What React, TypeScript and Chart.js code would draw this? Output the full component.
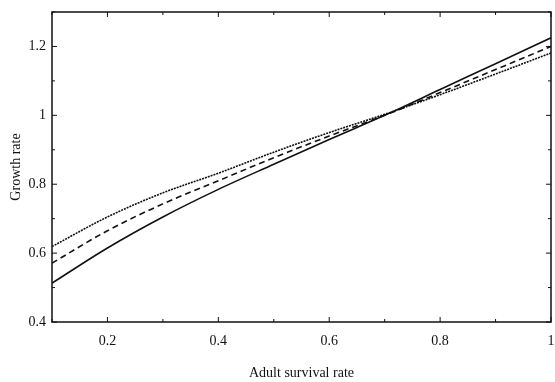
import React, { useEffect, useRef } from "react";
import { Chart, registerables } from "chart.js";

Chart.register(...registerables);

const xValues = [0.1, 0.2, 0.3, 0.4, 0.5, 0.6, 0.7, 0.8, 0.9, 1.0];
const solidSeries = [0.513, 0.615, 0.705, 0.785, 0.858, 0.93, 1.0, 1.075, 1.15, 1.225];
const dashedSeries = [0.571, 0.665, 0.743, 0.81, 0.877, 0.94, 1.0, 1.066, 1.133, 1.2];
const dottedSeries = [0.619, 0.705, 0.775, 0.832, 0.893, 0.95, 1.003, 1.06, 1.12, 1.181];
const xTicks = [0.2, 0.4, 0.6, 0.8, 1];
const yTicks = [0.4, 0.6, 0.8, 1, 1.2];
const xMinor = [0.1, 0.3, 0.5, 0.7, 0.9];
const yMinor = [0.5, 0.7, 0.9, 1.1, 1.3];

const FONT = "'Liberation Serif', 'DejaVu Serif', serif";

const framePlugin = {
  id: "frameTicks",
  afterDatasetsDraw(chart: any) {
    const { ctx, chartArea: a, scales } = chart;
    const xs = scales.x;
    const ys = scales.y;
    ctx.save();
    ctx.strokeStyle = "#111";
    ctx.lineWidth = 1.5;
    ctx.strokeRect(a.left, a.top, a.right - a.left, a.bottom - a.top);
    ctx.lineWidth = 1;
    const drawX = (v: number, len: number) => {
      const p = xs.getPixelForValue(v);
      ctx.beginPath();
      ctx.moveTo(p, a.bottom);
      ctx.lineTo(p, a.bottom - len);
      ctx.moveTo(p, a.top);
      ctx.lineTo(p, a.top + len);
      ctx.stroke();
    };
    const drawY = (v: number, len: number) => {
      const p = ys.getPixelForValue(v);
      ctx.beginPath();
      ctx.moveTo(a.left, p);
      ctx.lineTo(a.left + len, p);
      ctx.moveTo(a.right, p);
      ctx.lineTo(a.right - len, p);
      ctx.stroke();
    };
    xTicks.forEach((v) => drawX(v, 5));
    xMinor.forEach((v) => drawX(v, 3));
    yTicks.forEach((v) => drawY(v, 5));
    yMinor.forEach((v) => drawY(v, 3));
    ctx.restore();
  },
};

export default function App() {
  const ref = useRef<HTMLCanvasElement | null>(null);
  useEffect(() => {
    document.body.style.margin = "0";
    if (!ref.current) return;
    const mk = (data: number[]) => xValues.map((x, i) => ({ x, y: data[i] }));
    const line = (data: number[], dash: number[]) => ({
      data: mk(data),
      borderColor: "#111",
      borderWidth: 1.6,
      borderDash: dash,
      pointRadius: 0,
      cubicInterpolationMode: "monotone",
      fill: false,
    });
    const chart = new Chart(ref.current, {
      type: "line",
      data: {
        datasets: [
          line(solidSeries, []),
          line(dashedSeries, [6, 4]),
          line(dottedSeries, [2, 1]),
        ],
      },
      options: {
        responsive: false,
        animation: false,
        layout: { padding: { top: 12, right: 4, left: 8, bottom: 0 } },
        plugins: { legend: { display: false }, tooltip: { enabled: false } },
        scales: {
          x: {
            type: "linear",
            min: 0.1,
            max: 1,
            afterBuildTicks: (s: any) => {
              s.ticks = xTicks.map((v) => ({ value: v }));
            },
            afterFit: (s: any) => {
              s.height = 60;
              s.paddingLeft = 0;
              s.paddingRight = 0;
            },
            grid: { display: false, drawTicks: false },
            border: { display: false },
            ticks: {
              color: "#111",
              padding: 11,
              maxRotation: 0,
              font: { family: FONT, size: 14 },
              callback: (v: any) => String(v),
            },
            title: {
              display: true,
              text: "Adult survival rate",
              color: "#111",
              font: { family: FONT, size: 14 },
              padding: { top: 10, bottom: 0 },
            },
          },
          y: {
            type: "linear",
            min: 0.4,
            max: 1.3,
            afterBuildTicks: (s: any) => {
              s.ticks = yTicks.map((v) => ({ value: v }));
            },
            afterFit: (s: any) => {
              s.width = 44;
              s.paddingTop = 0;
              s.paddingBottom = 0;
            },
            grid: { display: false, drawTicks: false },
            border: { display: false },
            ticks: {
              color: "#111",
              padding: 6,
              font: { family: FONT, size: 14 },
              callback: (v: any) => String(Math.round(v * 10) / 10),
            },
            title: {
              display: true,
              text: "Growth rate",
              color: "#111",
              font: { family: FONT, size: 14 },
              padding: { top: 0, bottom: 0 },
            },
          },
        },
      },
      plugins: [framePlugin],
    } as any);
    return () => chart.destroy();
  }, []);
  return (
    <div style={{ position: "absolute", left: 0, top: 0, width: 555, height: 382, background: "#fff" }}>
      <canvas ref={ref} width={555} height={382} />
    </div>
  );
}
